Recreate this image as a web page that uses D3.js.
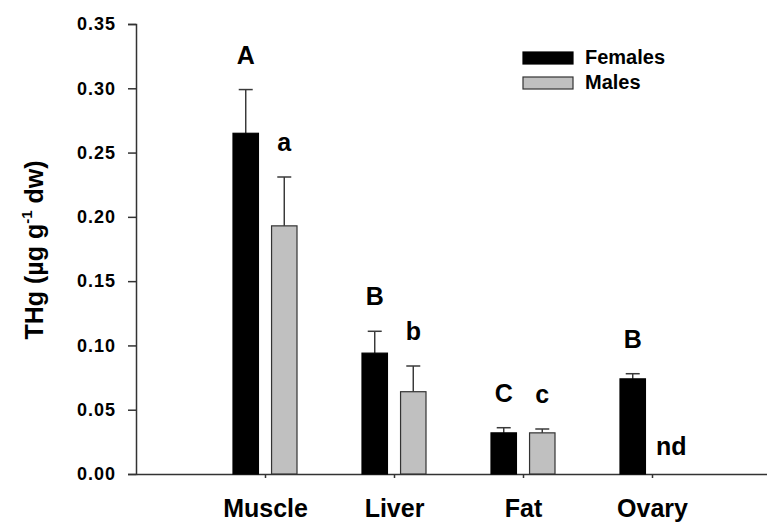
<!DOCTYPE html>
<html>
<head>
<meta charset="utf-8">
<script src="https://cdn.jsdelivr.net/npm/d3@7"></script>
<style>
  html, body { margin: 0; padding: 0; background: #fff; }
  svg { display: block; font-family: "Liberation Sans", Arial, sans-serif; font-weight: bold; }
</style>
</head>
<body>
<svg id="chart" width="767" height="522"></svg>
<script>
// Tissue categories and sexes
const tissues = ["Muscle", "Liver", "Fat", "Ovary"];
const sexes = ["Females", "Males"];

// Mean THg (µg g-1 dw) and standard error per tissue
const femaleMeans = [0.265, 0.094, 0.032, 0.074];
const femaleErrors = [0.034, 0.017, 0.004, 0.004];
const maleMeans = [0.193, 0.064, 0.032, null];   // ovary: not determined
const maleErrors = [0.038, 0.020, 0.003, null];

// Significance letters
const femaleLetters = ["A", "B", "C", "B"];
const maleLetters = ["a", "b", "c", "nd"];

// Axis ticks
const yTicks = [0.00, 0.05, 0.10, 0.15, 0.20, 0.25, 0.30, 0.35];

const svg = d3.select("#chart");
const plotLeft = 136, plotRight = 781, plotTop = 24, plotBottom = 474;

const y = d3.scaleLinear().domain([0, 0.35]).range([plotBottom, plotTop]);
const x = d3.scalePoint().domain(tissues).range([plotLeft, plotRight]).padding(1);
const xInner = d3.scaleBand().domain(sexes).range([-32, 32]).paddingInner(0.34);

const fills = { Females: "#000000", Males: "#c0c0c0" };

const rows = [];
tissues.forEach((t, i) => {
  rows.push({ tissue: t, sex: "Females", mean: femaleMeans[i], err: femaleErrors[i], letter: femaleLetters[i] });
  rows.push({ tissue: t, sex: "Males", mean: maleMeans[i], err: maleErrors[i], letter: maleLetters[i] });
});
const present = rows.filter(d => d.mean != null);

// Y axis
const yAxis = svg.append("g")
  .attr("transform", `translate(${plotLeft},0)`)
  .call(d3.axisLeft(y).tickValues(yTicks).tickFormat(d3.format(".2f")).tickSize(8).tickPadding(12));
yAxis.selectAll("text").attr("font-size", 18).attr("fill", "#000").attr("letter-spacing", 1)
  .attr("font-family", "Liberation Sans, Arial, sans-serif").attr("font-weight", "bold");

// X axis
const xAxis = svg.append("g")
  .attr("transform", `translate(0,${plotBottom})`)
  .call(d3.axisBottom(x).tickSize(4).tickPadding(21).tickSizeOuter(0));
xAxis.selectAll("text").attr("font-size", 25).attr("fill", "#000")
  .attr("font-family", "Liberation Sans, Arial, sans-serif").attr("font-weight", "bold");

[yAxis, xAxis].forEach(a => {
  a.select(".domain").attr("stroke", "#333").attr("stroke-width", 1.5);
  a.selectAll(".tick line").attr("stroke", "#333").attr("stroke-width", 1.5);
});

// Error bars (upper only)
const cap = 7;
const eb = svg.append("g").attr("stroke", "#3a3a3a").attr("stroke-width", 1.5);
present.forEach(d => {
  const cx = x(d.tissue) + xInner(d.sex) + xInner.bandwidth() / 2;
  eb.append("line").attr("x1", cx).attr("x2", cx).attr("y1", y(d.mean)).attr("y2", y(d.mean + d.err));
  eb.append("line").attr("x1", cx - cap).attr("x2", cx + cap).attr("y1", y(d.mean + d.err)).attr("y2", y(d.mean + d.err));
});

// Bars
svg.append("g").selectAll("rect").data(present).join("rect")
  .attr("x", d => x(d.tissue) + xInner(d.sex))
  .attr("y", d => y(d.mean))
  .attr("width", xInner.bandwidth())
  .attr("height", d => y(0) - y(d.mean))
  .attr("fill", d => fills[d.sex])
  .attr("stroke", d => d.sex === "Males" ? "#333" : "#000")
  .attr("stroke-width", 1.2);

// Significance letters
svg.append("g").selectAll("text").data(rows).join("text")
  .attr("x", d => x(d.tissue) + xInner(d.sex) + xInner.bandwidth() / 2)
  .attr("y", d => d.mean == null ? y(0) - 19 : y(d.mean + d.err) - 26)
  .attr("text-anchor", "middle")
  .attr("font-size", 25)
  .attr("fill", "#000")
  .text(d => d.letter);

// Y axis title
const yt = svg.append("text")
  .attr("transform", "translate(43,250) rotate(-90)")
  .attr("text-anchor", "middle")
  .attr("font-size", 25)
  .attr("fill", "#000");
yt.append("tspan").text("THg (µg g");
yt.append("tspan").attr("font-size", 15).attr("dy", -11).text("-1");
yt.append("tspan").attr("dy", 11).text(" dw)");

// Legend
const legend = svg.append("g");
sexes.forEach((s, i) => {
  const g = legend.append("g").attr("transform", `translate(523,${52 + i * 25})`);
  g.append("rect").attr("width", 50).attr("height", 12)
    .attr("fill", fills[s]).attr("stroke", s === "Males" ? "#333" : "#000").attr("stroke-width", 1.2);
  g.append("text").attr("x", 62).attr("y", 11.5).attr("font-size", 20).attr("fill", "#000").text(s);
});
</script>
</body>
</html>
